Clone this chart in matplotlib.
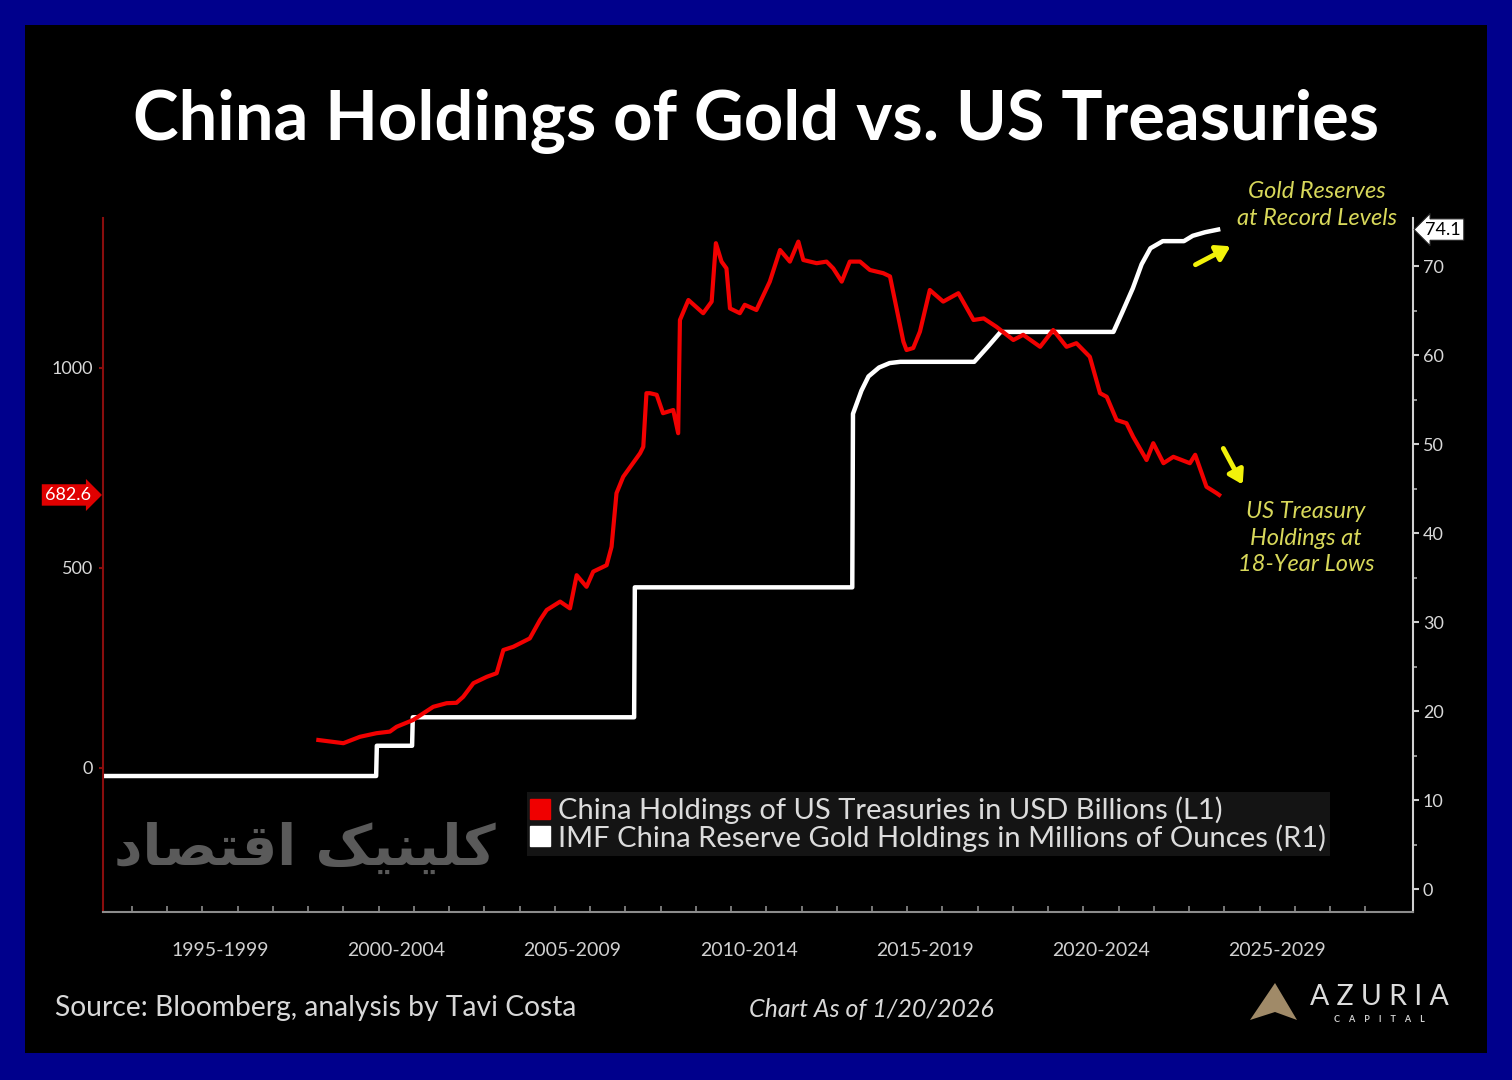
import matplotlib
matplotlib.use("Agg")
import matplotlib.pyplot as plt
from matplotlib.lines import Line2D
from matplotlib.patches import Rectangle, Polygon, FancyArrowPatch
import matplotlib.transforms as mtransforms

# ---------------- data ----------------
tsy_year = [2000.29, 2001.0, 2001.47, 2001.94, 2002.32, 2002.51, 2002.98, 2003.55, 2003.93,
            2004.21, 2004.4, 2004.69, 2005.07, 2005.35, 2005.54, 2005.82, 2006.29, 2006.58,
            2006.77, 2007.15, 2007.43, 2007.62, 2007.9, 2008.09, 2008.47, 2008.61, 2008.75,
            2008.94, 2009.42, 2009.51, 2009.6, 2009.7, 2009.89, 2010.07, 2010.36, 2010.5,
            2010.55, 2010.79, 2011.21, 2011.45, 2011.57, 2011.73, 2011.87, 2011.97, 2012.25,
            2012.39, 2012.72, 2013.1, 2013.39, 2013.67, 2013.91, 2014.05, 2014.43, 2014.71,
            2014.9, 2015.14, 2015.37, 2015.66, 2015.94, 2016.32, 2016.51, 2016.89, 2016.98,
            2017.17, 2017.36, 2017.64, 2018.02, 2018.45, 2018.88, 2019.17, 2019.53, 2019.82,
            2020.01, 2020.29, 2020.77, 2021.14, 2021.52, 2021.8, 2022.18, 2022.47, 2022.66,
            2022.94, 2023.22, 2023.41, 2023.79, 2023.98, 2024.27, 2024.55, 2025.02, 2025.17,
            2025.49, 2025.78, 2025.85]
tsy_value = [70, 62, 78, 87, 91, 103, 120, 153, 162,
             163, 178, 212, 228, 237, 295, 303, 324, 370,
             395, 416, 399, 482, 453, 491, 507, 553, 687,
             728, 787, 803, 937, 937, 933, 887, 895, 837,
             1120, 1170, 1137, 1166, 1312, 1266, 1249, 1149, 1137,
             1158, 1145, 1216, 1295, 1266, 1316, 1270, 1262, 1266,
             1249, 1216, 1266, 1266, 1245, 1237, 1229, 1066, 1045,
             1050, 1091, 1195, 1166, 1187, 1120, 1124, 1103, 1083,
             1070, 1083, 1053, 1095, 1053, 1062, 1028, 937, 928,
             870, 862, 828, 770, 812, 762, 778, 762, 783,
             703, 687, 682.6]

gold_year = [1994.18, 2001.93, 2001.95, 2002.95, 2002.97, 2009.25, 2009.27, 2015.44, 2015.46,
             2015.7, 2015.9, 2016.2, 2016.5, 2016.8, 2018.9, 2019.3, 2019.65, 2022.85,
             2023.1, 2023.4, 2023.65, 2023.9, 2024.25, 2024.85, 2025.1, 2025.45, 2025.82]
gold_value = [12.7, 12.7, 16.1, 16.1, 19.3, 19.3, 33.9, 33.9, 53.4,
              56.0, 57.6, 58.6, 59.1, 59.24, 59.24, 61.0, 62.6, 62.6,
              64.8, 67.5, 70.2, 72.0, 72.8, 72.8, 73.4, 73.8, 74.1]

period_starts = [1995, 2000, 2005, 2010, 2015, 2020, 2025, 2030]
period_labels = ["1995-1999", "2000-2004", "2005-2009", "2010-2014",
                 "2015-2019", "2020-2024", "2025-2029"]
left_ticks = [0, 500, 1000]
right_ticks = [0, 10, 20, 30, 40, 50, 60, 70]
last_tsy = 682.6
last_gold = 74.1

title = "China Holdings of Gold vs. US Treasuries"
label_tsy = "China Holdings of US Treasuries in USD Billions (L1)"
label_gold = "IMF China Reserve Gold Holdings in Millions of Ounces (R1)"

FONT = "Lato"
plt.rcParams["font.family"] = [FONT, "DejaVu Sans"]

fig = plt.figure(figsize=(15.12, 10.8), dpi=100)
fig.patch.set_facecolor("#00008c")
# inner black panel
fig.add_artist(Rectangle((25 / 1512, 1 - 1053 / 1080), (1487 - 25) / 1512, (1053 - 25) / 1080,
                         transform=fig.transFigure, facecolor="black", edgecolor="none", zorder=0))

ax = fig.add_axes([103 / 1512, 1 - 912 / 1080, (1413 - 103) / 1512, (912 - 218) / 1080])
ax.set_facecolor("black")
ax2 = ax.twinx()

ax.set_xlim(1994.18, 2031.35)
ax.set_ylim(-360, 1375)
ax2.set_ylim(-2.58, 75.4)

ax.plot(tsy_year, tsy_value, color="#f20000", lw=3.0, solid_joinstyle="round", zorder=5)
ax2.plot(gold_year, gold_value, color="white", lw=3.2, solid_joinstyle="round", zorder=4)
ax.set_zorder(ax2.get_zorder() + 1)
ax.patch.set_visible(False)
ax2.patch.set_visible(True)
ax2.patch.set_facecolor("black")

# spines
for a in (ax, ax2):
    a.spines["top"].set_visible(False)
ax.spines["left"].set_color("#8a0d0d")
ax.spines["left"].set_linewidth(1.5)
ax.spines["right"].set_visible(False)
ax.spines["bottom"].set_color("#8c8c8c")
ax.spines["bottom"].set_linewidth(1.5)
ax2.spines["left"].set_visible(False)
ax2.spines["bottom"].set_visible(False)
ax2.spines["right"].set_color("#d0d0d0")
ax2.spines["right"].set_linewidth(1.5)

# left axis ticks
ax.set_yticks(left_ticks)
ax.set_yticklabels([str(v) for v in left_ticks])
ax.tick_params(axis="y", colors="#8a0d0d", labelcolor="#d8d8d8", labelsize=13,
               length=3, width=1.5, direction="out", pad=4)
# right axis ticks
ax2.set_yticks(right_ticks)
ax2.set_yticklabels([str(v) for v in right_ticks])
ax2.set_yticks([5, 15, 25, 35, 45, 55, 65], minor=True)
ax2.tick_params(axis="y", which="major", colors="#d0d0d0", labelcolor="#d8d8d8",
                labelsize=13, length=4, width=1.5, direction="out", pad=3)
ax2.tick_params(axis="y", which="minor", colors="#aaaaaa", length=3, width=1.2, direction="out")

# x axis: separators as major ticks, yearly minor ticks
ax.set_xticks(period_starts)
ax.set_xticklabels([""] * len(period_starts))
ax.set_xticks(list(range(1995, 2031)), minor=True)
ax.tick_params(axis="x", which="major", colors="#7a7a7a", length=36, width=1.5, direction="out")
ax.tick_params(axis="x", which="minor", colors="#8c8c8c", length=4, width=1.2, direction="in")
ax2.set_xticks([])

tb = mtransforms.blended_transform_factory(ax.transData, ax.transAxes)
for s, lab in zip(period_starts[:-1], period_labels):
    ax.text(s + 2.5, -0.055, lab, transform=tb, ha="center", va="center",
            color="#d0d0d0", fontsize=14)

# last-value labels
ax.annotate(f"{last_tsy}", xy=(0, last_tsy), xycoords=("axes fraction", "data"),
            xytext=(-9, 0), textcoords="offset points", ha="right", va="center",
            color="white", fontsize=13,
            bbox=dict(boxstyle="rarrow,pad=0.15", fc="#e00000", ec="none"))
ax2.annotate(f"{last_gold}", xy=(1, last_gold), xycoords=("axes fraction", "data"),
             xytext=(9, 0), textcoords="offset points", ha="left", va="center",
             color="black", fontsize=13,
             bbox=dict(boxstyle="larrow,pad=0.15", fc="white", ec="#222222", lw=0.8))

# legend
handles = [Line2D([], [], marker="s", ls="none", color="#f00000", markersize=14),
           Line2D([], [], marker="s", ls="none", color="white", markersize=14)]
leg = ax.legend(handles, [label_tsy, label_gold], loc="upper left",
                bbox_to_anchor=((527 - 103) / 1310, (912 - 792) / 694),
                frameon=True, facecolor="#141414", edgecolor="none", framealpha=1,
                fontsize=21, labelcolor="#dcdcdc", handlelength=0.6, handletextpad=0.3,
                borderpad=0.15, labelspacing=0.0, borderaxespad=0)
leg.get_frame().set_boxstyle("square", pad=0)
leg.set_zorder(10)

# annotations
ycol = "#d8d85a"
fig.text(1317 / 1512, 1 - 205 / 1080, "Gold Reserves\nat Record Levels", ha="center", va="center",
         color=ycol, fontsize=17, style="italic", linespacing=1.3)
fig.text(1306 / 1512, 1 - 538 / 1080, "US Treasury\nHoldings at\n18-Year Lows", ha="center",
         va="center", color=ycol, fontsize=17, style="italic", linespacing=1.3)
fig.add_artist(FancyArrowPatch(
    (1193 / 1512, 1 - 266 / 1080), (1233 / 1512, 1 - 245 / 1080), transform=fig.transFigure,
    arrowstyle="-|>,head_length=8,head_width=5", color="#f2f20a", lw=3.5))
fig.add_artist(FancyArrowPatch(
    (1222 / 1512, 1 - 446 / 1080), (1244 / 1512, 1 - 487 / 1080), transform=fig.transFigure,
    arrowstyle="-|>,head_length=8,head_width=5", color="#f2f20a", lw=3.5))

# title
fig.text(756 / 1512, 1 - 122 / 1080, title, ha="center", va="center", color="white",
         fontsize=49.5, fontweight="bold")

# footer
fig.text(55 / 1512, 1 - 1008 / 1080, "Source: Bloomberg, analysis by Tavi Costa", ha="left",
         va="center", color="#d8d8d8", fontsize=20.3)
fig.text(871 / 1512, 1 - 1009 / 1080, "Chart As of 1/20/2026", ha="center", va="center",
         color="#d8d8d8", fontsize=18, style="italic")

# AZURIA logo
fig.add_artist(Polygon([(1250 / 1512, 1 - 1020 / 1080), (1275 / 1512, 1 - 983 / 1080),
                        (1297 / 1512, 1 - 1020 / 1080), (1275 / 1512, 1 - 1012 / 1080)],
                       closed=True, transform=fig.transFigure, facecolor="#a08a68",
                       edgecolor="none"))
fig.text(1379 / 1512, 1 - 997 / 1080, "A Z U R I A", ha="center", va="center", color="#dcdcdc",
         fontsize=20.5)
fig.text(1379 / 1512, 1 - 1019 / 1080, "C    A    P    I    T    A    L", ha="center",
         va="center", color="#cfcfcf", fontsize=6.5, fontweight="bold")

# watermark (Persian, shaped glyphs in visual order)
watermark = "\uFEA9\uFE8E\uFEBC\uFE98\uFED7\uFE8D \uFB8F\uFBFF\uFEE8\uFBFF\uFEE0\uFB90"
fig.text(305 / 1512, 1 - 850 / 1080, watermark, ha="center", va="center", color="#5a5a5a",
         fontsize=40, fontweight="bold", family=["DejaVu Sans"])

fig.savefig("out.png", dpi=100, facecolor=fig.get_facecolor())
